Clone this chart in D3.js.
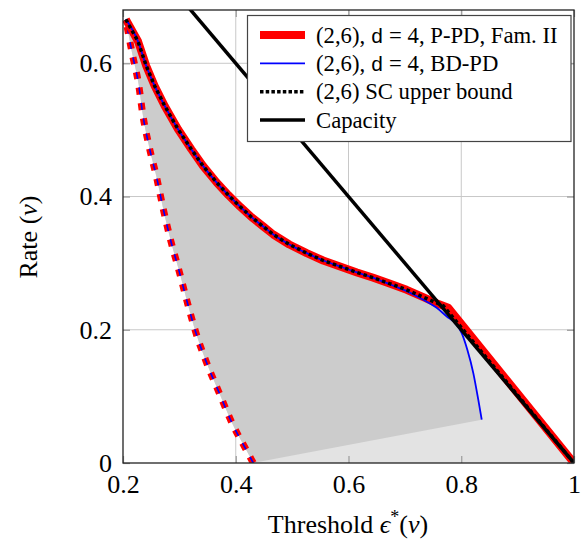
<!DOCTYPE html>
<html><head><meta charset="utf-8">
<script src="https://cdn.jsdelivr.net/npm/d3@7"></script>
<style>body{margin:0;background:#fff}svg{display:block}</style>
</head><body>
<svg id="c" width="584" height="542"></svg>
<script>
// ---- data ----
const xTicks = [0.2, 0.4, 0.6, 0.8, 1];
const yTicks = [0, 0.2, 0.4, 0.6];
const xDomain = [0.2, 1];
const yDomain = [0, 0.68];

// (2,6), d=4, P-PD, Fam. II
const ppdX = [0.205, 0.2266, 0.2413, 0.2562, 0.2740, 0.2976, 0.3212, 0.3419, 0.3662, 0.3870, 0.4075, 0.4280, 0.4489, 0.4666, 0.4950, 0.5259, 0.5550, 0.5850, 0.6150, 0.6440, 0.6740, 0.7032, 0.7327, 0.7560, 0.777, 1.0];
const ppdY = [0.666, 0.633, 0.596, 0.566, 0.536, 0.501, 0.471, 0.446, 0.421, 0.402, 0.385, 0.369, 0.355, 0.343, 0.328, 0.315, 0.304, 0.295, 0.286, 0.278, 0.269, 0.260, 0.249, 0.240, 0.233, 0.0];

// (2,6), d=4, BD-PD
const bdX = [0.205, 0.2266, 0.2413, 0.2562, 0.2740, 0.2976, 0.3212, 0.3419, 0.3662, 0.3870, 0.4075, 0.4280, 0.4489, 0.4666, 0.4950, 0.5259, 0.5550, 0.5850, 0.6150, 0.6440, 0.6740, 0.7032, 0.7327, 0.7564, 0.7744, 0.789, 0.8008, 0.8108, 0.8214, 0.8302, 0.8363];
const bdY = [0.666, 0.633, 0.596, 0.566, 0.536, 0.501, 0.471, 0.446, 0.421, 0.402, 0.385, 0.369, 0.355, 0.343, 0.328, 0.315, 0.304, 0.295, 0.286, 0.278, 0.268, 0.258, 0.245, 0.233, 0.220, 0.210, 0.195, 0.170, 0.135, 0.095, 0.065];

// (2,6) SC upper bound
const scX = [0.205, 0.2266, 0.2413, 0.2562, 0.2740, 0.2976, 0.3212, 0.3419, 0.3662, 0.3870, 0.4075, 0.4280, 0.4489, 0.4666, 0.4950, 0.5259, 0.5550, 0.5850, 0.6150, 0.6440, 0.6740, 0.7032, 0.7327, 0.768, 1.0];
const scY = [0.666, 0.633, 0.596, 0.566, 0.536, 0.501, 0.471, 0.446, 0.421, 0.402, 0.385, 0.369, 0.355, 0.343, 0.328, 0.315, 0.304, 0.295, 0.286, 0.278, 0.269, 0.260, 0.249, 0.236, 0.0];

// BP threshold curve (dashed, same for both families)
const bpX = [0.205, 0.2160, 0.2278, 0.2355, 0.2461, 0.2598, 0.2715, 0.2846, 0.2999, 0.3141, 0.3295, 0.3485, 0.3708, 0.3928, 0.4194, 0.4311];
const bpY = [0.666, 0.616, 0.568, 0.521, 0.476, 0.428, 0.381, 0.334, 0.287, 0.241, 0.195, 0.150, 0.105, 0.061, 0.0185, 0];

// Capacity
const capX = [0.2, 1.0];
const capY = [0.8, 0.0];

const legendLabels = ["(2,6), ", "(2,6), ", "(2,6) SC upper bound", "Capacity"];

// ---- drawing ----
const SERIF = "Liberation Serif";
const svg = d3.select("#c");
const L = 123, R = 574, T = 10, B = 463;
const x = d3.scaleLinear(xDomain, [L, R]);
const y = d3.scaleLinear(yDomain, [B, T]);
const zip = (a, b) => a.map((v, i) => [v, b[i]]);
const smooth = d3.line().x(d => x(d[0])).y(d => y(d[1])).curve(d3.curveMonotoneX);
const lin = d3.line().x(d => x(d[0])).y(d => y(d[1]));
const joinPath = (fa, a, fb, b) => fa(a) + fb(b.slice().reverse()).replace(/^M/, "L") + "Z";

svg.append("defs").append("clipPath").attr("id", "clip")
  .append("rect").attr("x", L).attr("y", T).attr("width", R - L).attr("height", B - T);

// grid
const g = svg.append("g");
g.selectAll(".gx").data(xTicks.filter(v => v > 0.2 && v < 1)).join("line")
  .attr("x1", d => x(d)).attr("x2", d => x(d)).attr("y1", T).attr("y2", B)
  .attr("stroke", "#c8c8c8").attr("stroke-width", 1);
g.selectAll(".gy").data(yTicks.filter(v => v > 0)).join("line")
  .attr("y1", d => y(d)).attr("y2", d => y(d)).attr("x1", L).attr("x2", R)
  .attr("stroke", "#c8c8c8").attr("stroke-width", 1);

const plot = svg.append("g").attr("clip-path", "url(#clip)");
const bp = zip(bpX, bpY);
const ppd = zip(ppdX, ppdY);
const bd = zip(bdX, bdY);
const sc = zip(scX, scY);

// fills
plot.append("path").attr("d", joinPath(smooth, bp, lin, ppd)).attr("fill", "#e3e3e3");
plot.append("path").attr("d", joinPath(smooth, bp, smooth, bd)).attr("fill", "#cccccc");

// dashed BP curves (pattern aligned so that a dash ends at the axis)
const dashOn = 7, dashOff = 8.5, period = dashOn + dashOff;
const bpRed = plot.append("path").attr("d", smooth(bp)).attr("fill", "none").attr("stroke", "#ff0000")
  .attr("stroke-width", 7).attr("stroke-dasharray", `${dashOn},${dashOff}`);
const bpLen = bpRed.node().getTotalLength();
const off = dashOn - (bpLen % period);
bpRed.attr("stroke-dashoffset", off);
plot.append("path").attr("d", smooth(bp)).attr("fill", "none").attr("stroke", "#0000ff")
  .attr("stroke-width", 1.6).attr("stroke-dasharray", `${dashOn},${dashOff}`).attr("stroke-dashoffset", off);

// P-PD
plot.append("path").attr("d", lin(ppd)).attr("fill", "none").attr("stroke", "#ff0000")
  .attr("stroke-width", 8).attr("stroke-linejoin", "round");
// BD-PD
plot.append("path").attr("d", smooth(bd)).attr("fill", "none").attr("stroke", "#0000ff")
  .attr("stroke-width", 1.8);
// capacity
plot.append("path").attr("d", lin(zip(capX, capY))).attr("fill", "none").attr("stroke", "#000")
  .attr("stroke-width", 3.5);
// SC
plot.append("path").attr("d", lin(sc)).attr("fill", "none").attr("stroke", "#000")
  .attr("stroke-width", 3.5).attr("stroke-dasharray", "3.5,3");

// axes (inward ticks)
const fmt = d => (d === 0 ? "0" : d === 1 ? "1" : d3.format(".1f")(d));
const ax = svg.append("g").attr("transform", `translate(0,${B})`)
  .call(d3.axisBottom(x).tickValues(xTicks).tickSize(-7).tickPadding(12).tickFormat(fmt));
const ay = svg.append("g").attr("transform", `translate(${L},0)`)
  .call(d3.axisLeft(y).tickValues(yTicks).tickSize(-7).tickPadding(11).tickFormat(fmt));
const at = svg.append("g").attr("transform", `translate(0,${T})`)
  .call(d3.axisTop(x).tickValues(xTicks).tickSize(-7).tickFormat(""));
const ar = svg.append("g").attr("transform", `translate(${R},0)`)
  .call(d3.axisRight(y).tickValues(yTicks).tickSize(-7).tickFormat(""));
[ax, ay, at, ar].forEach(a => {
  a.attr("font-family", SERIF).attr("font-size", 26);
  a.select(".domain").remove();
  a.selectAll(".tick line").attr("stroke", "#9a9a9a").attr("stroke-width", 1.2);
  a.selectAll("text").attr("font-family", SERIF).attr("font-size", 26).attr("fill", "#000");
});

// frame
svg.append("rect").attr("x", L).attr("y", T).attr("width", R - L).attr("height", B - T)
  .attr("fill", "none").attr("stroke", "#222").attr("stroke-width", 1.3);

// axis labels
const xl = svg.append("text").attr("x", 348).attr("y", 533).attr("text-anchor", "middle")
  .attr("font-size", 26).attr("font-family", SERIF);
xl.append("tspan").text("Threshold ");
xl.append("tspan").text("ϵ").attr("font-style", "italic");
xl.append("tspan").text("*").attr("dy", -10).attr("font-size", 18);
xl.append("tspan").text("(").attr("dy", 10);
xl.append("tspan").text("ν").attr("font-style", "italic");
xl.append("tspan").text(")");

const yl = svg.append("text").attr("transform", "translate(37,237) rotate(-90)").attr("text-anchor", "middle")
  .attr("font-size", 26).attr("font-family", SERIF);
yl.append("tspan").text("Rate (");
yl.append("tspan").text("ν").attr("font-style", "italic");
yl.append("tspan").text(")");

// legend
const lg = svg.append("g");
lg.append("rect").attr("x", 247.5).attr("y", 15.5).attr("width", 323.5).attr("height", 126)
  .attr("fill", "#fff").attr("stroke", "#444").attr("stroke-width", 1.2);
const rows = [35, 63.3, 91.7, 120];
const sw = [
  {c: "#ff0000", w: 8, da: null},
  {c: "#0000ff", w: 1.8, da: null},
  {c: "#000", w: 3.5, da: "3.5,2.2"},
  {c: "#000", w: 3.5, da: null}
];
sw.forEach((s, i) => {
  lg.append("line").attr("x1", 260).attr("x2", 305).attr("y1", rows[i]).attr("y2", rows[i])
    .attr("stroke", s.c).attr("stroke-width", s.w).attr("stroke-dasharray", s.da);
  const t = lg.append("text").attr("x", 316).attr("y", rows[i] + 7.5)
    .attr("font-size", 22.7).attr("font-family", SERIF);
  t.append("tspan").text(legendLabels[i]);
  if (i < 2) {
    t.append("tspan").text("d").attr("font-family", "Liberation Mono").attr("font-size", 21);
    t.append("tspan").text(" = 4, " + (i === 0 ? "P-PD, Fam. II" : "BD-PD"));
  }
});
</script>
</body></html>
